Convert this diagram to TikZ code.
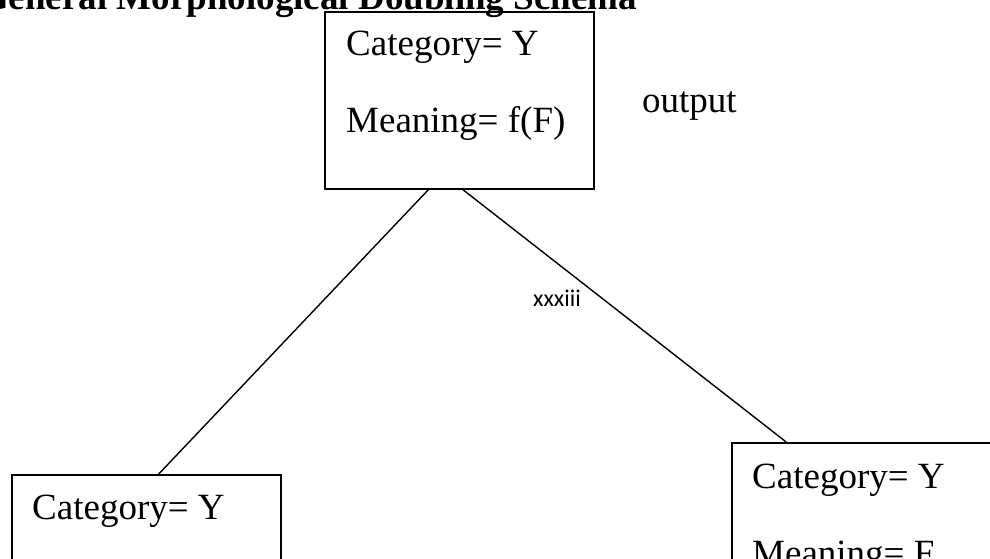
\documentclass[tikz,border=0pt]{standalone}
\usepackage{fontspec}
\setmainfont{Liberation Serif}
\newfontfamily\labelsans{Carlito}
\usetikzlibrary{calc}
\begin{document}
\begin{tikzpicture}[x=1pt,y=-1pt,
  featbox/.style={draw=black, line width=1.6pt, rectangle, inner sep=0pt,
    minimum width=269pt, minimum height=177pt, anchor=north west},
  feat/.style={anchor=base west, inner sep=0pt,
    font=\fontsize{37}{41}\selectfont},
  branch/.style={draw=black, line width=1.4pt}]
\useasboundingbox (0,0) rectangle (990,558);
\clip (0,0) rectangle (990,558);

% heading
\node[anchor=base west, inner sep=0pt, font=\bfseries\fontsize{37}{41}\selectfont]
  (heading) at (-20,9) {General Morphological Doubling Schema};

% mother node
\node[featbox] (mother) at (324,11) {};
\node[feat] (mcat) at (346,55) {Category= Y};
\node[feat] (mmean) at (346,132) {Meaning= f(F)};
\node[feat] (out) at (642,112) {output};

% daughters
\node[featbox] (left) at (11,474) {};
\node[feat] (lcat) at (32,519) {Category= Y};

\node[featbox] (right) at (731,442) {};
\node[feat] (rcat) at (752,488) {Category= Y};
\node[feat] (rmean) at (752,565) {Meaning= F};

% branches
\coordinate (mL) at ($(mother.south west)!0.386!(mother.south east)$);
\coordinate (mR) at ($(mother.south west)!0.513!(mother.south east)$);
\coordinate (lT) at ($(left.north west)!0.546!(left.north east)$);
\coordinate (rT) at ($(right.north west)!0.204!(right.north east)$);
\draw[branch] (mL) -- (lT);
\draw[branch] (mR) -- (rT);

% page number
\node[anchor=center, inner sep=0pt, font=\labelsans\fontsize{24}{28}\selectfont]
  (pagenum) at (557,298) {xxxiii};
\end{tikzpicture}
\end{document}
